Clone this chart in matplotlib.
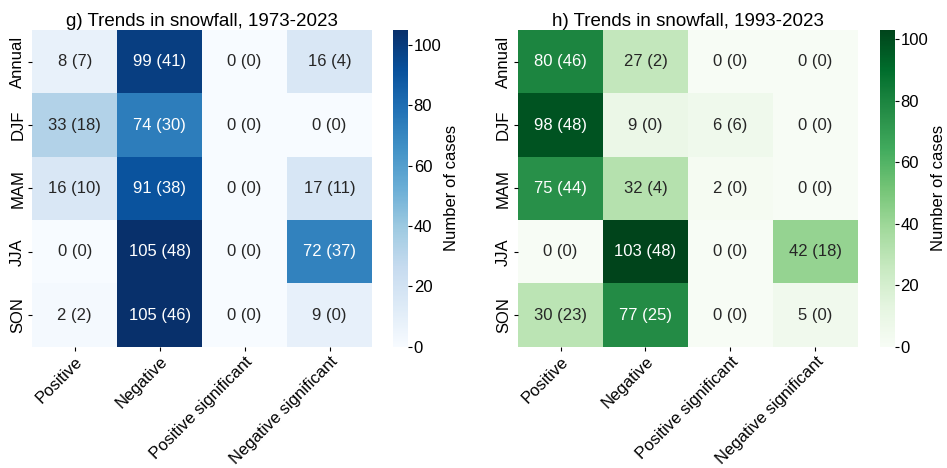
import matplotlib
matplotlib.use('Agg')
import matplotlib.pyplot as plt
import numpy as np
import seaborn as sns

plt.rcParams['font.family'] = ['Liberation Sans', 'DejaVu Sans']

seasons = ['Annual', 'DJF', 'MAM', 'JJA', 'SON']
categories = ['Positive', 'Negative', 'Positive significant', 'Negative significant']

# counts (number in brackets = significant at station level)
counts_1973 = [[8, 99, 0, 16],
               [33, 74, 0, 0],
               [16, 91, 0, 17],
               [0, 105, 0, 72],
               [2, 105, 0, 9]]
brackets_1973 = [[7, 41, 0, 4],
                 [18, 30, 0, 0],
                 [10, 38, 0, 11],
                 [0, 48, 0, 37],
                 [2, 46, 0, 0]]

counts_1993 = [[80, 27, 0, 0],
               [98, 9, 6, 0],
               [75, 32, 2, 0],
               [0, 103, 0, 42],
               [30, 77, 0, 5]]
brackets_1993 = [[46, 2, 0, 0],
                 [48, 0, 6, 0],
                 [44, 4, 0, 0],
                 [0, 48, 0, 18],
                 [23, 25, 0, 0]]

titles = ['g) Trends in snowfall, 1973-2023', 'h) Trends in snowfall, 1993-2023']


def make_labels(c, b):
    return np.array([[f'{c[i][j]} ({b[i][j]})' for j in range(len(c[i]))] for i in range(len(c))])


fig = plt.figure(figsize=(9.47, 4.68), dpi=100)
ax1 = fig.add_axes([0.034, 0.259, 0.359, 0.677])
cax1 = fig.add_axes([0.415, 0.259, 0.016, 0.677])
ax2 = fig.add_axes([0.547, 0.259, 0.359, 0.677])
cax2 = fig.add_axes([0.929, 0.259, 0.016, 0.677])

panels = [(ax1, cax1, counts_1973, brackets_1973, 'Blues', titles[0]),
          (ax2, cax2, counts_1993, brackets_1993, 'Greens', titles[1])]

for ax, cax, c, b, cmap, title in panels:
    sns.heatmap(np.array(c), annot=make_labels(c, b), fmt='', cmap=cmap, ax=ax, cbar_ax=cax,
                annot_kws={'fontsize': 12})
    ax.set_title(title, fontsize=13.5, pad=2)
    ax.set_xticklabels(categories, rotation=45, ha='right', rotation_mode='anchor', fontsize=12)
    ax.set_yticklabels(seasons, rotation=90, va='center', fontsize=12)
    ax.tick_params(length=3, pad=2)
    cax.tick_params(labelsize=12, length=3, pad=1)
    cax.set_ylabel('Number of cases', fontsize=12, labelpad=2)

fig.savefig('out.png', dpi=100)
